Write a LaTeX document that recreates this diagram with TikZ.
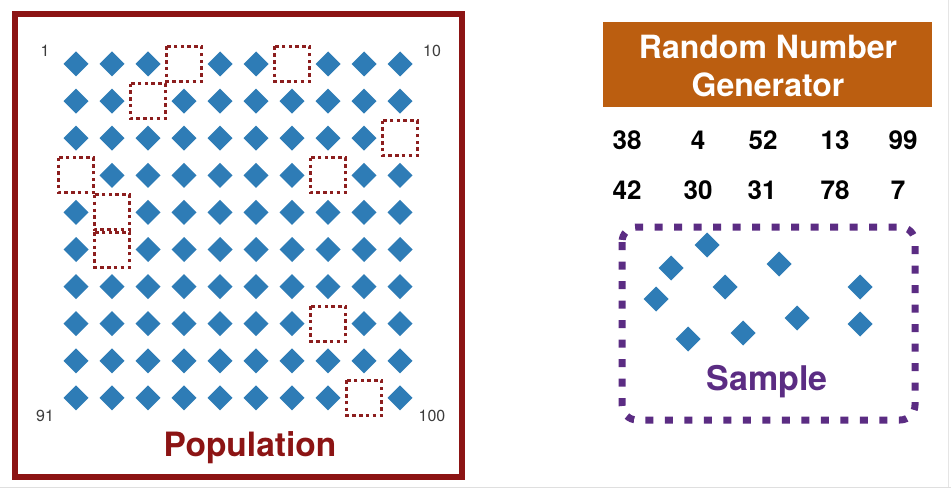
\documentclass[tikz,border=0pt]{standalone}
\usepackage{fontspec}
\setmainfont{TeX Gyre Heros}
\definecolor{popred}{RGB}{140,20,20}
\definecolor{dotred}{RGB}{140,30,30}
\definecolor{dblue}{RGB}{46,124,182}
\definecolor{rngorange}{RGB}{187,94,16}
\definecolor{sampurple}{RGB}{91,44,131}
\definecolor{cornergray}{RGB}{60,60,60}
\tikzset{
  dia/.style={fill=dblue},
  picked/.style={draw=dotred, line width=3pt, dash pattern=on 3.5pt off 3.3pt},
  cornerlbl/.style={text=cornergray, font=\fontsize{16}{18}\selectfont},
  numlbl/.style={font=\bfseries\fontsize{26}{28}\selectfont, text=black},
}
\begin{document}
\begin{tikzpicture}[x=1pt,y=-1pt]
\useasboundingbox (0,0) rectangle (951,500);
\fill[white] (0,0) rectangle (951,500);
% faint page edges
\draw[gray!25, line width=1pt] (0,487) -- (951,487);
\draw[gray!20, line width=1pt] (948,0) -- (948,487);
% population frame
\draw[popred, line width=6.5pt] (15,14) rectangle (462,477);
% grid
\foreach \r in {0,...,9}{
  \foreach \c in {0,...,9}{
    \pgfmathtruncatemacro{\n}{\r*10+\c+1}
    \pgfmathsetmacro{\xx}{76+36*\c}
    \pgfmathsetmacro{\yy}{64+37.1*\r}
    \ifnum\n=4 \def\skip{1}\else
    \ifnum\n=7 \def\skip{1}\else
    \ifnum\n=13 \def\skip{1}\else
    \ifnum\n=30 \def\skip{1}\else
    \ifnum\n=31 \def\skip{1}\else
    \ifnum\n=38 \def\skip{1}\else
    \ifnum\n=42 \def\skip{1}\else
    \ifnum\n=52 \def\skip{1}\else
    \ifnum\n=78 \def\skip{1}\else
    \ifnum\n=99 \def\skip{1}\else
    \def\skip{0}\fi\fi\fi\fi\fi\fi\fi\fi\fi\fi
    \ifnum\skip=1
      \draw[picked] (\xx-17.5,\yy-17.5) rectangle (\xx+17.5,\yy+17.5);
    \else
      \fill[dia] (\xx-12.5,\yy) -- (\xx,\yy-12.5) -- (\xx+12.5,\yy) -- (\xx,\yy+12.5) -- cycle;
    \fi
  }
}
\node[cornerlbl] (c1) at (45,51) {1};
\node[cornerlbl] (c10) at (432,51) {10};
\node[cornerlbl] (c91) at (45,416) {91};
\node[cornerlbl] (c100) at (432,416) {100};
\node[text=popred, font=\bfseries\fontsize{33.5}{36}\selectfont] (pop) at (250,448) {Population};
% random number generator
\fill[rngorange] (603,22) rectangle (932,107);
\node[text=white, font=\bfseries\fontsize{32}{38}\selectfont, align=center] (rng) at (768,66) {Random Number\\Generator};
\node[numlbl] (n38) at (627,140) {38};
\node[numlbl] (n4) at (698,140) {4};
\node[numlbl] (n52) at (763,140) {52};
\node[numlbl] (n13) at (835,140) {13};
\node[numlbl] (n99) at (903,140) {99};
\node[numlbl] (n42) at (627,190) {42};
\node[numlbl] (n30) at (698,190) {30};
\node[numlbl] (n31) at (762,190) {31};
\node[numlbl] (n78) at (835,190) {78};
\node[numlbl] (n7) at (898,190) {7};
% sample
\draw[sampurple, line width=7pt, dash pattern=on 8pt off 11.5pt, rounded corners=15pt] (622,227) rectangle (915,420);
\foreach \xx/\yy in {707/245, 671/268, 656/299, 725/287, 779/264, 688/339, 743/333, 797/318, 860/287, 860/324}{
  \fill[dia] (\xx-12.5,\yy) -- (\xx,\yy-12.5) -- (\xx+12.5,\yy) -- (\xx,\yy+12.5) -- cycle;
}
\node[text=sampurple, font=\bfseries\fontsize{34}{36}\selectfont] (samp) at (767,382) {Sample};
\end{tikzpicture}
\end{document}
